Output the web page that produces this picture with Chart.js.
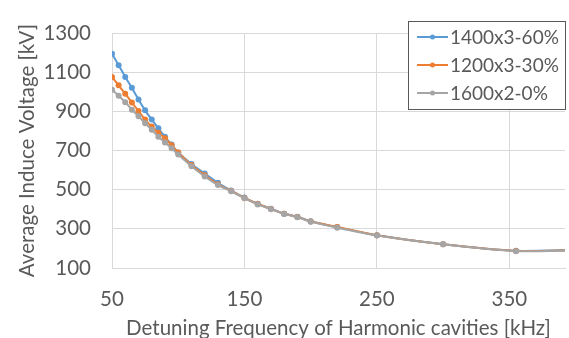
<!DOCTYPE html>
<html>
<head>
<meta charset="utf-8">
<script src="https://cdn.jsdelivr.net/npm/chart.js@4"></script>
<style>
  html, body { margin: 0; padding: 0; background: #fff; }
</style>
</head>
<body>
<canvas id="chart" width="569" height="338"></canvas>
<script>
// detuning frequency [kHz]
const freq = [50, 55, 60, 65, 70, 75, 80, 85, 90, 95, 100, 110, 120, 130, 140, 150, 160, 170, 180, 190, 200, 220, 250, 300, 355, 400];
// average induced voltage [kV]
const v1400x3 = [1195, 1137, 1077, 1021, 962, 906, 859, 814, 771, 731, 691, 632, 583, 536, 496, 460, 428, 403, 378, 362, 339, 309, 268, 222, 188, 192];
const v1200x3 = [1077, 1034, 991, 946, 903, 859, 823, 792, 763, 728, 691, 626, 574, 528, 494, 458, 427, 402, 377, 361, 338, 310, 267, 221, 187, 191];
const v1600x2 = [1011, 981, 948, 909, 876, 840, 807, 771, 742, 712, 680, 620, 568, 524, 492, 457, 425, 401, 376, 360, 337, 306, 266, 221, 186, 190];
const seriesNames = ['1400x3-60%', '1200x3-30%', '1600x2-0%'];
const xTicks = [50, 150, 250, 350];

const FONT = 'Lato';
const FS = 20.5;
const TXT = '#595959';
const GRID = '#d9d9d9';

const toPts = vals => freq.map((f, i) => ({ x: f, y: vals[i] }));

// order: the last series is painted on top, as in the spreadsheet
const mkSet = (label, vals, color, order) => ({
  label,
  data: toPts(vals),
  order,
  borderColor: color,
  backgroundColor: color,
  borderWidth: 2,
  pointRadius: 3,
  pointBorderWidth: 0,
  tension: 0.2
});

// legend box drawn inside the plot
const boxLegend = {
  id: 'boxLegend',
  afterDraw(chart) {
    const ctx = chart.ctx;
    const x0 = 408, y0 = 21, w = 157, h = 88;
    ctx.save();
    ctx.fillStyle = '#fff';
    ctx.fillRect(x0, y0, w, h);
    ctx.strokeStyle = '#595959';
    ctx.lineWidth = 1;
    ctx.strokeRect(x0 + 0.5, y0 + 0.5, w, h);
    ctx.font = '19px ' + FONT;
    ctx.textBaseline = 'middle';
    chart.data.datasets.forEach((ds, i) => {
      const cy = 37 + i * 28;
      ctx.strokeStyle = ds.borderColor;
      ctx.lineWidth = 2;
      ctx.beginPath();
      ctx.moveTo(417, cy);
      ctx.lineTo(448, cy);
      ctx.stroke();
      ctx.fillStyle = ds.borderColor;
      ctx.beginPath();
      ctx.arc(432.5, cy, 2.5, 0, Math.PI * 2);
      ctx.fill();
      ctx.fillStyle = TXT;
      ctx.fillText(ds.label, 450, cy + 1);
    });
    ctx.restore();
  }
};

new Chart(document.getElementById('chart'), {
  type: 'line',
  data: {
    datasets: [
      mkSet(seriesNames[0], v1400x3, '#5b9bd5', 2),
      mkSet(seriesNames[1], v1200x3, '#ed7d31', 1),
      mkSet(seriesNames[2], v1600x2, '#a5a5a5', 0)
    ]
  },
  options: {
    responsive: false,
    animation: false,
    layout: { padding: { top: 17, left: 0, right: 0, bottom: 0 } },
    plugins: {
      legend: { display: false },
      tooltip: { enabled: false }
    },
    scales: {
      x: {
        type: 'linear',
        min: 50,
        max: 392,
        afterBuildTicks: s => { s.ticks = xTicks.map(v => ({ value: v })); },
        afterFit: s => { s.height = 70; },
        grid: { color: GRID, drawTicks: false },
        border: { color: GRID },
        ticks: { color: TXT, font: { family: FONT, size: FS }, padding: 19, maxRotation: 0, callback: v => String(v) },
        title: {
          display: true,
          text: 'Detuning Frequency of Harmonic cavities [kHz]',
          color: TXT,
          font: { family: FONT, size: FS, lineHeight: '19px' },
          padding: { top: 0, bottom: 0 }
        }
      },
      y: {
        min: 100,
        max: 1300,
        afterFit: s => { s.width = 112; },
        grid: { color: GRID, drawTicks: false },
        border: { color: GRID },
        ticks: { stepSize: 200, color: TXT, font: { family: FONT, size: FS }, padding: 21, callback: v => String(v) },
        title: {
          display: true,
          text: 'Average Induce Voltage [kV]',
          color: TXT,
          font: { family: FONT, size: FS },
          padding: { top: 15, bottom: 0 }
        }
      }
    }
  },
  plugins: [boxLegend]
});
</script>
</body>
</html>
